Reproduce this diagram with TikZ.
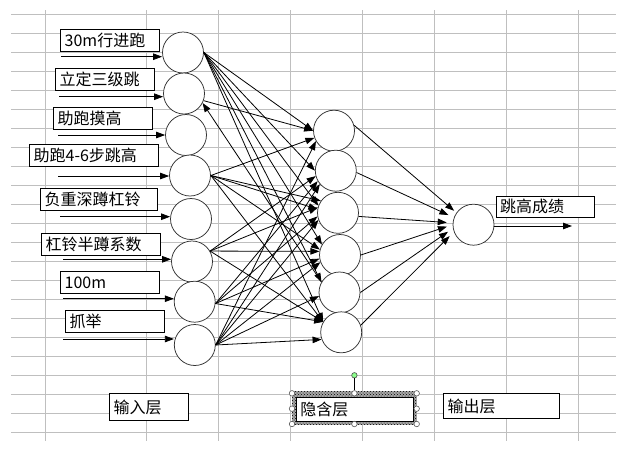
\documentclass[tikz,border=0pt]{standalone}
\usepackage{fontspec}
\setmainfont{Noto Sans CJK SC}
\usepackage{tikz}
\usetikzlibrary{arrows.meta,patterns}
\tikzset{every picture/.style={line width=0.75pt}}
\tikzset{
  cell/.style={draw=black!25,line width=0.8pt},
  neuron/.style={circle,draw=black!80,fill=white,minimum size=41pt,inner sep=0pt},
  tagbox/.style={draw,fill=white,anchor=north west,inner xsep=4pt,inner ysep=0pt,align=left,font=\fontsize{16}{18}\selectfont},
  link/.style={-{Triangle[length=9pt,width=6.5pt]},line width=0.8pt},
  grip/.style={circle,draw=black!65,fill=white,inner sep=0pt,minimum size=5.5pt,line width=0.6pt}
}

\begin{document}
\begin{tikzpicture}[x=1pt,y=-1pt]
		\useasboundingbox[fill=white] (0,0) rectangle (640,456);
		
		%Grid: sheet cells
		\draw[cell] (11,14.3) -- (616,14.3) (11,33.3) -- (616,33.3) (11,52.3) -- (616,52.3) (11,71.3) -- (616,71.3)
		 (11,90.3) -- (616,90.3) (11,109.3) -- (616,109.3) (11,128.3) -- (616,128.3) (11,147.3) -- (616,147.3)
		 (11,166.3) -- (616,166.3) (11,185.3) -- (616,185.3) (11,204.3) -- (616,204.3) (11,223.3) -- (616,223.3)
		 (11,242.3) -- (616,242.3) (11,261.3) -- (616,261.3) (11,280.3) -- (616,280.3) (11,299.3) -- (616,299.3)
		 (11,318.3) -- (616,318.3) (11,337.3) -- (616,337.3) (11,356.3) -- (616,356.3) (11,375.3) -- (616,375.3)
		 (11,394.3) -- (616,394.3) (11,413.3) -- (616,413.3) (11,432.3) -- (616,432.3) ;
		\draw[cell] (45,10) -- (45,441) (146.7,10) -- (146.7,441) (218.3,10) -- (218.3,441) (290,10) -- (290,441)
		 (362.3,10) -- (362.3,441) (434.3,10) -- (434.3,441) (506.7,10) -- (506.7,441) (578.3,10) -- (578.3,441) ;
		
		%Shape: Circle [input layer]
		\node[neuron] (in1) at (183,52.5) {};
		\node[neuron] (in2) at (184,93.5) {};
		\node[neuron] (in3) at (186,135) {};
		\node[neuron] (in4) at (190,175.5) {};
		\node[neuron] (in5) at (191,219) {};
		\node[neuron] (in6) at (192,261.5) {};
		\node[neuron] (in7) at (194.7,301.7) {};
		\node[neuron] (in8) at (194.8,345) {};
		%Shape: Circle [hidden layer]
		\node[neuron] (h1) at (334,130.7) {};
		\node[neuron] (h2) at (335.8,170.7) {};
		\node[neuron] (h3) at (338,212.8) {};
		\node[neuron] (h4) at (340,255) {};
		\node[neuron] (h5) at (339.5,292.5) {};
		\node[neuron] (h6) at (341.2,332.3) {};
		%Shape: Circle [output layer]
		\node[neuron] (out) at (473.5,224.7) {};
		
		% Text Node
		\node[tagbox,text width=91pt,minimum height=22pt] (t1) at (60.3,29.3) {30m行进跑};
		% Text Node
		\node[tagbox,text width=91pt,minimum height=22pt] (t2) at (55.3,68.3) {立定三级跳};
		% Text Node
		\node[tagbox,text width=91pt,minimum height=22pt] (t3) at (53.3,106.7) {助跑摸高};
		% Text Node
		\node[tagbox,text width=121pt,minimum height=22pt] (t4) at (29.3,144.3) {助跑4-6步跳高};
		% Text Node
		\node[tagbox,text width=109pt,minimum height=22pt] (t5) at (40.3,187.7) {负重深蹲杠铃};
		% Text Node
		\node[tagbox,text width=111pt,minimum height=22pt] (t6) at (41.3,233.3) {杠铃半蹲系数};
		% Text Node
		\node[tagbox,text width=91pt,minimum height=22pt] (t7) at (60.3,271.3) {100m};
		% Text Node
		\node[tagbox,text width=91pt,minimum height=22pt] (t8) at (65.3,310) {抓举};
		
		%Straight Lines [inputs]
		\coordinate (a1) at (61,56.7);
		\coordinate (a2) at (59.3,96.7);
		\coordinate (a3) at (58,135);
		\coordinate (a4) at (58,176);
		\coordinate (a5) at (60,216.7);
		\coordinate (a6) at (63.3,259.3);
		\coordinate (a7) at (63,298.7);
		\coordinate (a8) at (63,339);
		\draw[link] (a1) -- (a1 -| in1.west);
		\draw[link] (a2) -- (a2 -| in2.west);
		\draw[link] (a3) -- (a3 -| in3.west);
		\draw[link] (a4) -- (a4 -| in4.west);
		\draw[link] (a5) -- (a5 -| in5.west);
		\draw[link] (a6) -- (a6 -| in6.west);
		\draw[link] (a7) -- (a7 -| in7.west);
		\draw[link] (a8) -- (a8 -| in8.west);
		
		%Straight Lines [input to hidden]
		\draw[link] (in1.east) -- (h1.west);
		\draw[link] (in1.east) -- (h2.west);
		\draw[link] (in1.east) -- (h3.160);
		\draw[link] (in1.east) -- (h4.150);
		\draw[link] (in1.east) -- (h5.150);
		\draw[link] (in1.east) -- (h6.150);
		\draw[link] (in2.-20) -- (h1.west);
		\draw[link] (h5.150) -- (in2.-27);
		\draw[link] (in4.east) -- (h1.200);
		\draw[link] (in4.east) -- (h3.145);
		\draw[link] (in4.east) -- (h3.170);
		\draw[link] (in4.east) -- (h4.165);
		\draw[link] (in4.east) -- (h6.150);
		\draw[link] (in6.30) -- (h2.195);
		\draw[link] (in6.30) -- (h3.165);
		\draw[link] (in6.30) -- (h4.170);
		\draw[link] (in6.30) -- (h6.150);
		\draw[link] (in7.-5) -- (h2.210);
		\draw[link] (in7.-5) -- (h3.190);
		\draw[link] (in7.-5) -- (h4.190);
		\draw[link] (in7.-5) -- (h6.150);
		\draw[link] (in8.east) -- (h1.210);
		\draw[link] (in8.east) -- (h2.220);
		\draw[link] (in8.east) -- (h3.200);
		\draw[link] (in8.east) -- (h4.200);
		\draw[link] (in8.east) -- (h5.190);
		\draw[link] (in8.east) -- (h6.200);
		
		%Straight Lines [hidden to output]
		\draw[link,shorten >=3pt] (h1.15) -- (out.145);
		\draw[link,shorten >=6pt] (h2.-5) -- (out.160);
		\draw[link,shorten >=6pt] (h3.-10) -- (out.175);
		\draw[link,shorten >=6pt] (h4.east) -- (out.180);
		\draw[link,shorten >=6pt] (h5.east) -- (out.190);
		\draw[link,shorten >=6pt] (h6.20) -- (out.200);
		
		%Straight Lines [output]
		\coordinate (yend) at (572,226);
		\draw[link] (out.east |- yend) -- (yend);
		% Text Node
		\node[tagbox,text width=90.6pt,minimum height=21.3pt] (ty) at (495.7,195.7) {跳高成绩};
		
		% Text Node [layer captions]
		\node[tagbox,text width=71pt,minimum height=27pt] (lin) at (109.3,393.3) {输入层};
		\fill[black!35] (292,391) rectangle (416.7,424.5);
		\fill[pattern=crosshatch dots,pattern color=black] (292,391) rectangle (416.7,424.5);
		\node[tagbox,text width=108.7pt,minimum height=23.4pt] (lhid) at (296,397.3) {隐含层};
		\node[tagbox,text width=108pt,minimum height=25pt] (lout) at (443.3,393.3) {输出层};
		
		%Shape: selection handles
		\node[grip,fill=green!45!white,draw=black!70] (grot) at (354.4,375.3) {};
		\node[grip] (gn) at (354.4,393.3) {};
		\draw[line width=0.8pt] (grot) -- (gn);
		\node[grip] (gnw) at (292,393.3) {};
		\node[grip] (gne) at (416.7,393.3) {};
		\node[grip] (gw) at (292,408.7) {};
		\node[grip] (ge) at (416.7,408.7) {};
		\node[grip] (gsw) at (292,424) {};
		\node[grip] (gs) at (354.4,424) {};
		\node[grip] (gse) at (416.7,424) {};
\end{tikzpicture}
\end{document}
